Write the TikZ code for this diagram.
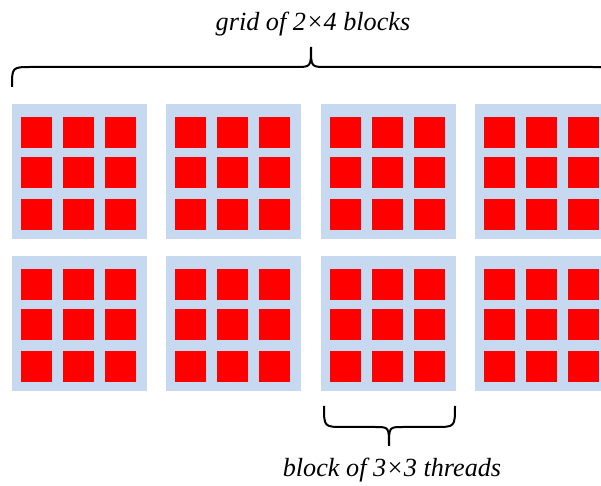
\documentclass[tikz,border=0pt]{standalone}
\usepackage{fontspec}
\setmainfont{Liberation Serif}
\definecolor{blockblue}{RGB}{198,217,240}
\definecolor{threadred}{RGB}{255,0,0}
\begin{document}
\begin{tikzpicture}[x=0.5pt,y=-0.5pt,
  blockbox/.style={fill=blockblue,draw=none,inner sep=0pt,minimum size=67.5pt,anchor=north west},
  threadbox/.style={fill=threadred,draw=none,inner sep=0pt,minimum size=15.5pt,anchor=north west},
  bracepath/.style={draw=black,line width=1pt},
  label/.style={font=\itshape\fontsize{13.1}{15}\selectfont,anchor=base,inner sep=0pt}]
\useasboundingbox (0,0) rectangle (601,486);
\foreach \r/\by in {1/104,2/256}{
  \foreach \c/\bx in {1/12,2/166,3/321,4/475}{
    \node[blockbox] (b\r\c) at (\bx,\by) {};
    \foreach \i/\dy in {1/13,2/53,3/95}{
      \foreach \j/\dx in {1/9,2/51,3/93}{
        \node[threadbox] (t\r\c\i\j) at (\bx+\dx,\by+\dy) {};
      }
    }
  }
}
\coordinate (tl) at (12,87);
\coordinate (tt) at (311,47);
\coordinate (tr) at (610,87);
\draw[bracepath] (tl) .. controls (12,67) .. (32,67) -- (296,67)
  .. controls (311,67) .. (tt) .. controls (311,67) .. (326,67) -- (590,67)
  .. controls (610,67) .. (tr);
\coordinate (bl) at (324,406);
\coordinate (bt) at (389,446);
\coordinate (br) at (455,406);
\draw[bracepath] (bl) .. controls (324,427) .. (344,427) -- (375,427)
  .. controls (389,427) .. (bt) .. controls (389,427) .. (403,427) -- (435,427)
  .. controls (455,427) .. (br);
\node[label] (gridlabel) at (313,31) {grid of 2×4 blocks};
\node[label] (blocklabel) at (392,477) {block of 3×3 threads};
\end{tikzpicture}
\end{document}
